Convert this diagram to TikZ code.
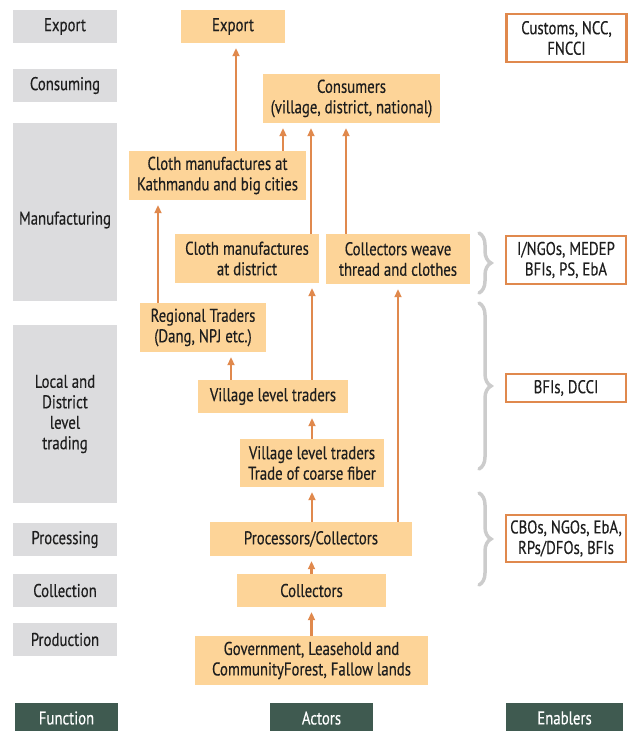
\documentclass[tikz,border=0pt]{standalone}
\usepackage{fontspec}
\setmainfont{PT Sans}[FakeStretch=0.8,FakeBold=0.35]
\usetikzlibrary{arrows.meta,positioning,decorations.pathreplacing}
\definecolor{fgray}{RGB}{220,220,222}
\definecolor{aorange}{RGB}{253,212,152}
\definecolor{lorange}{RGB}{224,137,77}
\definecolor{hgreen}{RGB}{63,90,80}
\definecolor{bgray}{RGB}{204,204,204}
\definecolor{tdark}{RGB}{30,30,30}
\tikzset{
    func/.style={
        rectangle, fill=fgray, text=tdark,
        minimum width=104pt, minimum height=33pt,
        align=center, inner sep=0pt
    },
    actor/.style={
        rectangle, fill=aorange, text=tdark,
        minimum height=33pt, align=center, inner sep=0pt
    },
    enabler/.style={
        rectangle, draw=lorange, line width=2.5pt, fill=white, text=tdark,
        minimum width=120pt, align=center, inner sep=0pt
    },
    header/.style={
        rectangle, fill=hgreen, text=white,
        minimum height=30pt, inner sep=0pt
    },
    connector/.style={
        draw=lorange, line width=2.4pt,
        -{Triangle[length=8pt,width=7pt]},
        shorten >=5pt
    },
    bracket/.style={
        draw=bgray, line width=3.5pt, line cap=round,
        decorate, decoration={brace, amplitude=12pt}
    }
}
\begin{document}
\begin{tikzpicture}[x=1pt,y=-1pt,font=\fontsize{18.5}{20.5}\selectfont]
    \useasboundingbox (0,0) rectangle (634,731);
    % function column
    \node[func] (fExport) at (65,26.5) {Export};
    \node[func] (fConsuming) at (65,85.5) {Consuming};
    \node[func, minimum height=178pt] (fManufacturing) at (65,212) {\raisebox{-8pt}[\height][\depth]{Manufacturing}};
    \node[func, minimum height=178pt] (fTrading) at (65,414) {Local and\\District\\level\\trading};
    \node[func] (fProcessing) at (65,539.5) {Processing};
    \node[func] (fCollection) at (65,590.5) {Collection};
    \node[func] (fProduction) at (65,639.5) {Production};
    % actors
    \node[actor, minimum width=104pt] (aExport) at (233,26.5) {Export};
    \node[actor, minimum width=177pt, minimum height=49pt] (aConsumers) at (351.5,98.5) {Consumers\\(village, district, national)};
    \node[actor, minimum width=177pt, minimum height=49pt] (aKathmandu) at (217.5,175.5) {Cloth manufactures at\\Kathmandu and big cities};
    \node[actor, minimum width=144pt, minimum height=49pt] (aDistrict) at (247,258.5) {Cloth manufactures\\at district};
    \node[actor, minimum width=144pt, minimum height=50pt] (aWeave) at (398,259) {Collectors weave\\thread and clothes};
    \node[actor, minimum width=126pt, minimum height=49pt] (aRegional) at (203,327.5) {Regional Traders\\(Dang, NPJ etc.)};
    \node[actor, minimum width=150pt] (aVillage) at (273,396.5) {Village level traders};
    \node[actor, minimum width=144pt, minimum height=48pt] (aCoarse) at (312,463) {Village level traders\\Trade of coarse fiber};
    \node[actor, minimum width=202pt, minimum height=34pt] (aProcessors) at (311,539) {Processors/Collectors};
    \node[actor, minimum width=149pt] (aCollectors) at (311.5,590.5) {Collectors};
    \node[actor, minimum width=233pt, minimum height=49pt] (aForest) at (311.5,660.5) {Government, Leasehold and\\CommunityForest, Fallow lands};
    % enablers
    \node[enabler, minimum height=48pt] (eCustoms) at (566.5,38) {Customs, NCC,\\FNCCI};
    \node[enabler, minimum height=48pt] (eManufacturing) at (566,260) {I/NGOs, MEDEP\\BFIs, PS, EbA};
    \node[enabler, minimum height=28pt] (eTrading) at (566,388) {BFIs, DCCI};
    \node[enabler, minimum height=47pt] (eProcessing) at (566,538.5) {CBOs, NGOs, EbA,\\RPs/DFOs, BFIs};
    % headers
    \node[header, minimum width=103pt] (hFunction) at (66.5,718) {Function};
    \node[header, minimum width=103pt] (hActors) at (321.5,718) {Actors};
    \node[header, minimum width=117pt] (hEnablers) at (564.5,718) {Enablers};
    % flows
    \draw[connector] ([xshift=18.5pt]aKathmandu.north) -- ([xshift=18.5pt]aKathmandu.north |- aExport.south);
    \draw[connector] ([xshift=65.5pt]aKathmandu.north) -- ([xshift=65.5pt]aKathmandu.north |- aConsumers.south);
    \draw[connector] ([xshift=64pt]aDistrict.north) -- ([xshift=64pt]aDistrict.north |- aConsumers.south);
    \draw[connector] ([xshift=-52pt]aWeave.north) -- ([xshift=-52pt]aWeave.north |- aConsumers.south);
    \draw[connector] ([xshift=-45pt]aRegional.north) -- ([xshift=-45pt]aRegional.north |- aKathmandu.south);
    \draw[connector] ([xshift=-42pt]aVillage.north) -- ([xshift=-42pt]aVillage.north |- aRegional.south);
    \draw[connector] ([xshift=39pt]aVillage.north) -- ([xshift=39pt]aVillage.north |- aDistrict.south);
    \draw[connector] (aCoarse.north) -- (aCoarse.north |- aVillage.south);
    \draw[connector] (aProcessors.north -| aCoarse) -- (aCoarse.south);
    \draw[connector] (aProcessors.north -| aWeave) -- (aWeave.south);
    \draw[connector] (aCollectors.north) -- (aCollectors.north |- aProcessors.south);
    \draw[connector] (aForest.north) -- (aCollectors.south);
    % braces
    \draw[bracket] (479,233) -- (479,293);
    \draw[bracket] (479,303) -- (479,469);
    \draw[bracket] (479,493) -- (479,585);
\end{tikzpicture}
\end{document}
